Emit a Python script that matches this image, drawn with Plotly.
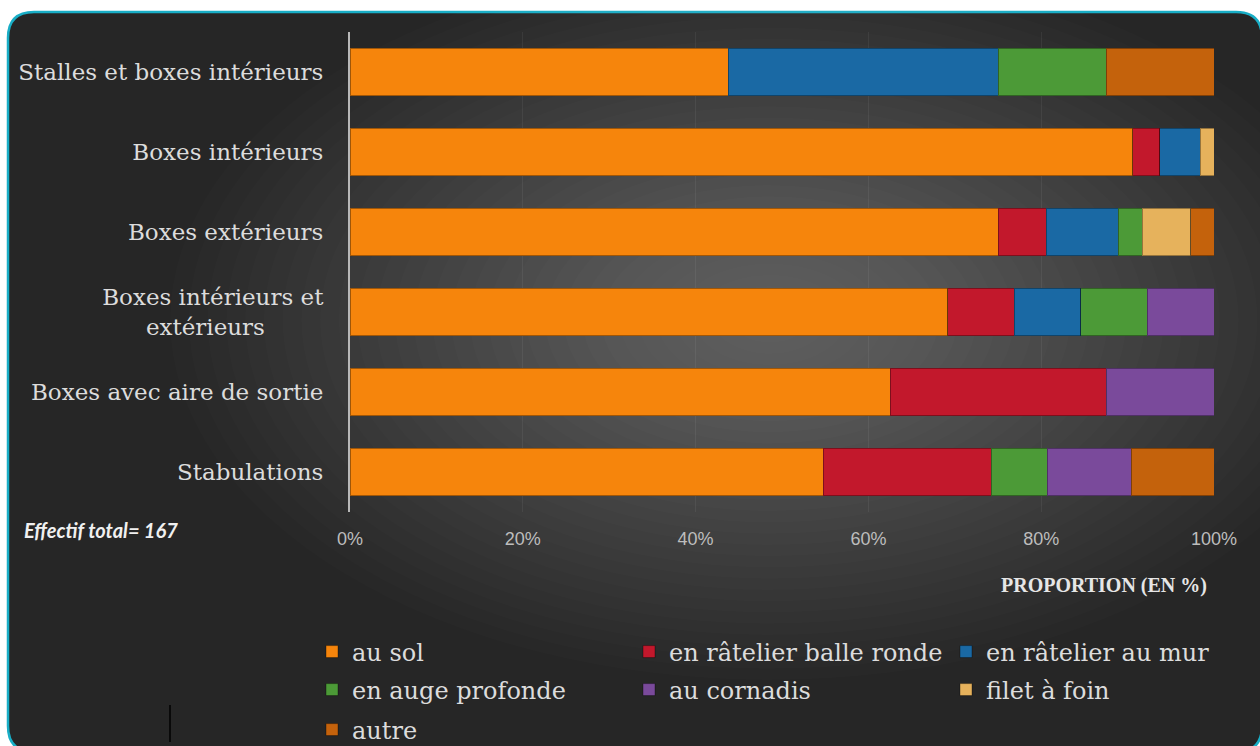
import plotly.graph_objects as go

# ---- data ----
categories = [
    "Stalles et boxes intérieurs",
    "Boxes intérieurs",
    "Boxes extérieurs",
    "Boxes intérieurs et<br>extérieurs" + "\u00a0" * 8,
    "Boxes avec aire de sortie",
    "Stabulations",
]
series_names = ["au sol", "en râtelier balle ronde", "en râtelier au mur",
                "en auge profonde", "au cornadis", "filet à foin", "autre"]
au_sol = [43.75, 90.6, 75.0, 69.2, 62.5, 54.8]
balle_ronde = [None, 3.1, 5.6, 7.7, 25.0, 19.4]
au_mur = [31.25, 4.7, 8.3, 7.7, None, None]
auge_profonde = [12.5, None, 2.8, 7.7, None, 6.5]
cornadis = [None, None, None, 7.7, 12.5, 9.7]
filet_foin = [None, 1.6, 5.6, None, None, None]
autre = [12.5, None, 2.7, None, None, 9.6]
tick_vals = [0, 20, 40, 60, 80, 100]
tick_text = ["0%", "20%", "40%", "60%", "80%", "100%"]

series_values = [au_sol, balle_ronde, au_mur, auge_profonde, cornadis, filet_foin, autre]
colors = ["#F6850C", "#C2182C", "#1A69A4", "#4C9A37", "#7A4A9B", "#E6B25C", "#C4620C"]
legend_of = ["legend", "legend", "legend", "legend2", "legend2", "legend2", "legend3"]

W, H = 1260, 746
L, R, T, B = 350, 46, 32, 234
PW, PH = W - L - R, H - T - B


def px(x):
    return (x - L) / PW


def py(y):
    return (H - B - y) / PH


fig = go.Figure()
for name, vals, col, lg in zip(series_names, series_values, colors, legend_of):
    fig.add_trace(go.Bar(
        y=categories, x=vals, name=name, orientation="h",
        marker=dict(color=col, line=dict(color="rgba(0,0,0,0.35)", width=1)),
        legend=lg, hoverinfo="skip",
    ))

# ---- background: rounded card with teal border and radial-ish shading ----
shapes = []
x0, y0, x1, y1, r = 8, 12, 1262, 752, 26
path = (f"M {px(x0 + r)},{py(y0)} L {px(x1 - r)},{py(y0)} "
        f"Q {px(x1)},{py(y0)} {px(x1)},{py(y0 + r)} L {px(x1)},{py(y1 - r)} "
        f"Q {px(x1)},{py(y1)} {px(x1 - r)},{py(y1)} L {px(x0 + r)},{py(y1)} "
        f"Q {px(x0)},{py(y1)} {px(x0)},{py(y1 - r)} L {px(x0)},{py(y0 + r)} "
        f"Q {px(x0)},{py(y0)} {px(x0 + r)},{py(y0)} Z")
shapes.append(dict(type="path", xref="paper", yref="paper", path=path,
                   fillcolor="#262626", line=dict(color="#19AEC6", width=2.5),
                   layer="below"))
cx, cy = 770, 320
n = 32
for i in range(n):
    f = 1 - i / n
    rx, ry = 600 * f, 360 * f
    shapes.append(dict(type="circle", xref="paper", yref="paper",
                       x0=px(cx - rx), x1=px(cx + rx), y0=py(cy + ry), y1=py(cy - ry),
                       fillcolor="rgba(255,255,255,0.012)", line=dict(width=0),
                       layer="below"))
# stray mark at bottom left
shapes.append(dict(type="line", xref="paper", yref="paper",
                   x0=px(170), x1=px(170), y0=py(705), y1=py(742),
                   line=dict(color="#000000", width=1.5), layer="above"))

annotations = [
    dict(text="<b><i>Effectif total= 167</i></b>", xref="paper", yref="paper",
         x=px(22), y=py(530), xanchor="left", yanchor="middle", showarrow=False,
         font=dict(family="Lato, Liberation Sans", size=20, color="#F0F0F0")),
    dict(text="<b>PROPORTION (EN %)</b>", xref="paper", yref="paper",
         x=px(1209), y=py(585), xanchor="right", yanchor="middle", showarrow=False,
         font=dict(family="Liberation Serif", size=20, color="#E6E6E6")),
]

legend_common = dict(orientation="h", xanchor="left", yanchor="middle",
                     x=px(312), bgcolor="rgba(0,0,0,0)", borderwidth=0,
                     entrywidth=272, entrywidthmode="pixels", traceorder="normal",
                     font=dict(family="DejaVu Serif", size=24, color="#DCDCDC"),
                     itemclick=False, itemdoubleclick=False)

fig.update_layout(
    width=W, height=H,
    margin=dict(l=L, r=R, t=T, b=B, autoexpand=False),
    paper_bgcolor="#FFFFFF", plot_bgcolor="rgba(0,0,0,0)",
    barmode="stack", bargap=0.41,
    shapes=shapes, annotations=annotations,
    legend=dict(legend_common, y=py(652)),
    legend2=dict(legend_common, y=py(690)),
    legend3=dict(legend_common, y=py(730)),
    xaxis=dict(range=[0, 100], tickvals=tick_vals, ticktext=tick_text,
               showgrid=True, gridcolor="rgba(255,255,255,0.06)", gridwidth=1,
               zeroline=False, showline=False, ticks="", ticklabelstandoff=14,
               tickfont=dict(family="Liberation Sans Narrow, Liberation Sans", size=18, color="#BDBDBD"),
               fixedrange=True),
    yaxis=dict(autorange=False, range=[5.5, -0.5], categoryorder="array",
               categoryarray=categories, showgrid=False, zeroline=False,
               showline=True, linecolor="#B8B8B8", linewidth=2, ticks="",
               ticklabelstandoff=20,
               tickfont=dict(family="DejaVu Serif", size=23, color="#DCDCDC"),
               fixedrange=True),
    showlegend=True,
)

fig.write_html("out.html")
